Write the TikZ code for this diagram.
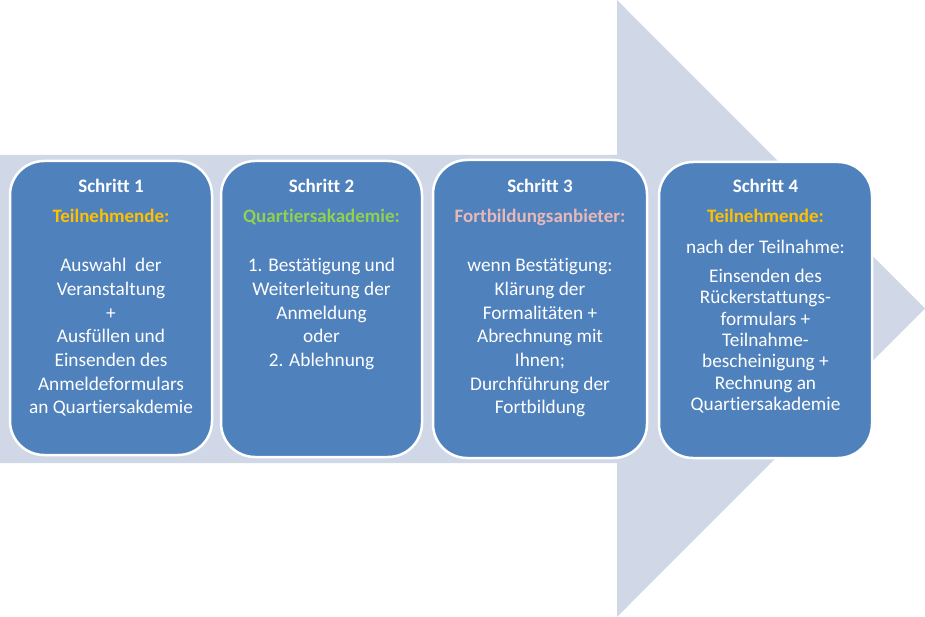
\documentclass[tikz,border=0pt]{standalone}
\usepackage{fontspec}
\setmainfont[RawFeature={-liga;-clig;-calt;-dlig}]{Carlito}
\definecolor{arrowbg}{HTML}{D0D8E8}
\definecolor{boxblue}{HTML}{4F81BD}
\definecolor{roleorange}{HTML}{FFC000}
\definecolor{rolegreen}{HTML}{92D050}
\definecolor{rolepink}{HTML}{E6B9B8}
\tikzset{
  stepbox/.style={fill=boxblue, draw=white, line width=2.5pt, rounded corners=34pt, inner sep=0pt},
  steptitle/.style={anchor=base, inner sep=0pt, text=white, font=\fontsize{19}{23.7}\selectfont\bfseries},
  steprole/.style={anchor=base, inner sep=0pt, font=\fontsize{19}{23.7}\selectfont\bfseries},
  stepbody/.style={anchor=base, inner sep=0pt, text=white, font=\fontsize{19.3}{23.7}\selectfont},
  stepbodytight/.style={anchor=base, inner sep=0pt, text=white, font=\fontsize{19.3}{21.3}\selectfont}
}
\begin{document}
\begin{tikzpicture}[x=1pt,y=-1pt]
\useasboundingbox (0,0) rectangle (925,617);
% big background arrow
\fill[arrowbg] (0,155) -- (617,155) -- (617,0) -- (925,308.5) -- (617,617) -- (617,463) -- (0,463) -- cycle;
% boxes
\node[stepbox, minimum width=202pt, minimum height=294pt] (b1) at (111,308) {};
\node[stepbox, minimum width=201pt, minimum height=296pt] (b2) at (321.5,309) {};
\node[stepbox, minimum width=214pt, minimum height=298pt] (b3) at (540,309) {};
\node[stepbox, minimum width=213pt, minimum height=296pt] (b4) at (765.5,310) {};
% box 1
\node[steptitle] (t1) at (111,192.7) {Schritt 1};
\node[steprole, text=roleorange] (r1) at (111,222.7) {Teilnehmende:};
\node[stepbody] (x1) at (111,271.7) {\begin{tabular}[t]{@{}c@{}}Auswahl\ \ der\\Veranstaltung\\+\\Ausfüllen und\\Einsenden des\\Anmeldeformulars\\an Quartiersakdemie\end{tabular}};
% box 2
\node[steptitle] (t2) at (321.5,192.7) {Schritt 2};
\node[steprole, text=rolegreen] (r2) at (321.5,222.7) {Quartiersakademie:};
\node[stepbody] (x2) at (321.5,271.7) {\begin{tabular}[t]{@{}c@{}}1. Bestätigung und\\Weiterleitung der\\Anmeldung\\oder\\2. Ablehnung\end{tabular}};
% box 3
\node[steptitle] (t3) at (540,192.7) {Schritt 3};
\node[steprole, text=rolepink] (r3) at (540,222.7) {Fortbildungsanbieter:};
\node[stepbody] (x3) at (540,271.7) {\begin{tabular}[t]{@{}c@{}}wenn Bestätigung:\\Klärung der\\Formalitäten +\\Abrechnung mit\\Ihnen;\\Durchführung der\\Fortbildung\end{tabular}};
% box 4
\node[steptitle] (t4) at (765.5,192.7) {Schritt 4};
\node[steprole, text=roleorange] (r4) at (765.5,222.7) {Teilnehmende:};
\node[stepbody] (n4) at (765.5,253.3) {nach der Teilnahme:};
\node[stepbodytight] (x4) at (765.5,282.7) {\begin{tabular}[t]{@{}c@{}}Einsenden des\\Rückerstattungs-\\formulars +\\Teilnahme-\\bescheinigung +\\Rechnung an\\Quartiersakademie\end{tabular}};
\end{tikzpicture}
\end{document}
